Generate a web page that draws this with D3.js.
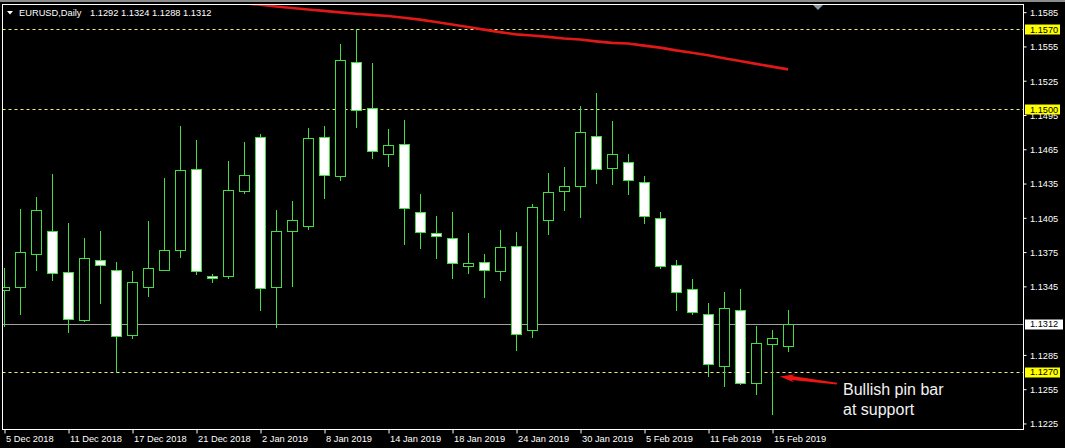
<!DOCTYPE html>
<html><head><meta charset="utf-8">
<script src="https://cdn.jsdelivr.net/npm/d3@7"></script>
<style>html,body{margin:0;padding:0;background:#000;overflow:hidden}</style>
</head><body>
<svg id="c" width="1065" height="448"></svg>
<script>
// ---------------- data ----------------
const symbolTitle = "EURUSD,Daily";
const headerOHLC = [1.1292, 1.1324, 1.1288, 1.1312];
const opens  = [1.1341,1.1344,1.1373,1.1393,1.1357,1.1315,1.1368,1.1359,1.1302,1.1344,
                1.1359,1.1376,1.1447,1.1354,1.1354,1.1428,1.1475,1.1344,1.1393,1.1397,
                1.1475,1.1441,1.1541,1.1501,1.1460,1.1469,1.1410,1.1391,1.1387,1.1362,
                1.1366,1.1358,1.1380,1.1306,1.1403,1.1428,1.1432,1.1476,1.1448,1.1453,
                1.1436,1.1404,1.1363,1.1342,1.1320,1.1275,1.1324,1.1260,1.1294,1.1292];
const highs  = [1.1361,1.1412,1.1423,1.1443,1.1400,1.1387,1.1393,1.1366,1.1358,1.1402,
                1.1439,1.1485,1.1473,1.1355,1.1454,1.1471,1.1478,1.1411,1.1419,1.1483,
                1.1485,1.1557,1.1570,1.1540,1.1482,1.1490,1.1425,1.1406,1.1410,1.1391,
                1.1373,1.1394,1.1392,1.1417,1.1444,1.1449,1.1502,1.1514,1.1489,1.1460,
                1.1441,1.1410,1.1368,1.1351,1.1330,1.1340,1.1342,1.1310,1.1306,1.1324];
const lows   = [1.1310,1.1320,1.1359,1.1350,1.1305,1.1314,1.1330,1.1270,1.1299,1.1336,
                1.1359,1.1370,1.1355,1.1348,1.1352,1.1426,1.1324,1.1309,1.1345,1.1395,
                1.1422,1.1438,1.1484,1.1457,1.1450,1.1382,1.1378,1.1369,1.1352,1.1356,
                1.1335,1.1350,1.1289,1.1300,1.1390,1.1411,1.1405,1.1435,1.1434,1.1425,
                1.1400,1.1361,1.1324,1.1320,1.1266,1.1257,1.1259,1.1250,1.1233,1.1288];
const closes = [1.1344,1.1375,1.1411,1.1356,1.1316,1.1369,1.1363,1.1301,1.1348,1.1361,
                1.1376,1.1446,1.1358,1.1352,1.1429,1.1442,1.1343,1.1393,1.1403,1.1474,
                1.1442,1.1543,1.1499,1.1463,1.1468,1.1413,1.1392,1.1389,1.1365,1.1365,
                1.1359,1.1379,1.1303,1.1414,1.1427,1.1432,1.1480,1.1447,1.1460,1.1438,
                1.1406,1.1362,1.1340,1.1322,1.1277,1.1326,1.1260,1.1295,1.1299,1.1312];
// moving average (starts at bar 15)
const maStart = 15;
const maValues = [1.15923,1.15910,1.15895,1.15882,1.15869,1.15857,1.15844,1.15832,1.15822,1.15812,
                  1.15797,1.15780,1.15759,1.15737,1.15716,1.15693,1.15671,1.15651,1.15641,1.15629,
                  1.15615,1.15606,1.15590,1.15577,1.15571,1.15553,1.15535,1.15511,1.15491,1.15468,
                  1.15443,1.15418,1.15393,1.15369,1.15345];
const dateTickIndex  = [0,4,8,12,16,20,24,28,32,36,40,44,48];
const dateTickLabels = ["5 Dec 2018","11 Dec 2018","17 Dec 2018","21 Dec 2018","2 Jan 2019","8 Jan 2019",
                        "14 Jan 2019","18 Jan 2019","24 Jan 2019","30 Jan 2019","5 Feb 2019","11 Feb 2019","15 Feb 2019"];
const priceTicks = [1.1585,1.1555,1.1525,1.1495,1.1465,1.1435,1.1405,1.1375,1.1345,1.1285,1.1255,1.1225];
const levelLines = [1.1570, 1.1500, 1.1270];
const bidPrice = 1.1312;
const noteLines = ["Bullish pin bar", "at support"];
const arrowTip  = [48.5, 1.12657];   // [bar index, price]
const arrowTail = [52.06, 1.12595];
const notePos   = [52.44, 1.12495];

// ---------------- layout ----------------
const W = 1065, H = 448;
const L = 2.5, R = 1023.5, T = 4.5, B = 429.5;
const GREEN = "#44dd44", FONT = "'Liberation Sans', Arial, sans-serif";

const svg = d3.select("#c");
svg.append("rect").attr("width", W).attr("height", H).attr("fill", "#000");
svg.append("rect").attr("width", W).attr("height", 2).attr("fill", "#8c8c8c");

const x = d3.scaleLinear().domain([0, 49]).range([4, 788]);
const y = d3.scaleLinear().domain([1.1270, 1.1570]).range([371.55, 28.8]);

svg.append("clipPath").attr("id", "plot").append("rect")
  .attr("x", L + 0.5).attr("y", T + 0.5).attr("width", R - L - 1).attr("height", B - T - 1);
const g = svg.append("g").attr("clip-path", "url(#plot)");

const snap = v => Math.round(v) + 0.5;

// level lines
g.selectAll("line.lvl").data(levelLines).join("line")
  .attr("x1", L).attr("x2", R)
  .attr("y1", d => snap(y(d))).attr("y2", d => snap(y(d)))
  .attr("stroke", "#f2f27a").attr("stroke-width", 1).attr("stroke-dasharray", "3,3");
// bid line
g.append("line").attr("x1", L).attr("x2", R)
  .attr("y1", snap(y(bidPrice))).attr("y2", snap(y(bidPrice)))
  .attr("stroke", "#a0a0a0").attr("stroke-width", 1);

// candles
const bars = d3.range(opens.length).map(i => ({i, o: opens[i], h: highs[i], l: lows[i], c: closes[i]}));
const cg = g.selectAll("g.cd").data(bars).join("g");
cg.append("line")
  .attr("x1", d => Math.round(x(d.i)) + 0.5).attr("x2", d => Math.round(x(d.i)) + 0.5)
  .attr("y1", d => Math.round(y(d.h))).attr("y2", d => Math.round(y(d.l)) + 1)
  .attr("stroke", GREEN).attr("stroke-width", 1);
cg.append("rect")
  .attr("x", d => Math.round(x(d.i)) - 4.5).attr("width", 10)
  .attr("y", d => snap(y(Math.max(d.o, d.c))))
  .attr("height", d => Math.max(0, snap(y(Math.min(d.o, d.c))) - snap(y(Math.max(d.o, d.c)))))
  .attr("fill", d => d.c >= d.o ? "#000" : "#fff")
  .attr("stroke", GREEN).attr("stroke-width", 1);

// moving average
g.append("path")
  .datum(maValues.map((v, j) => [maStart + j, v]))
  .attr("d", d3.line().x(d => x(d[0])).y(d => y(d[1])))
  .attr("fill", "none").attr("stroke", "#e01818").attr("stroke-width", 2.6);

// annotation arrow
{
  const tx = x(arrowTip[0]), ty = y(arrowTip[1]);
  const sx = x(arrowTail[0]), sy = y(arrowTail[1]);
  const ang = Math.atan2(sy - ty, sx - tx);
  const ux = Math.cos(ang), uy = Math.sin(ang), px = -uy, py = ux;
  const headLen = 15, headW = 4.2, shaftW0 = 2.0, shaftW1 = 0.9;
  const bx = tx + ux * headLen, by = ty + uy * headLen;
  const jx = tx + ux * (headLen - 3), jy = ty + uy * (headLen - 3);
  const pts = [
    [tx, ty],
    [bx + px * headW, by + py * headW],
    [jx + px * shaftW0, jy + py * shaftW0],
    [sx + px * shaftW1, sy + py * shaftW1],
    [sx - px * shaftW1, sy - py * shaftW1],
    [jx - px * shaftW0, jy - py * shaftW0],
    [bx - px * headW, by - py * headW]
  ];
  svg.append("path").attr("d", d3.line()(pts) + "Z").attr("fill", "#f01414");
}
svg.append("text").attr("x", x(notePos[0])).attr("y", y(notePos[1]))
  .attr("font-family", FONT).attr("font-size", 16).attr("fill", "#f2f2f2")
  .selectAll("tspan").data(noteLines).join("tspan")
  .attr("x", x(notePos[0])).attr("dy", (d, i) => i ? 20 : 0).text(d => d);

// frame
svg.append("rect").attr("x", L).attr("y", T).attr("width", R - L).attr("height", B - T)
  .attr("fill", "none").attr("stroke", "#fff").attr("stroke-width", 1);

// shift marker
svg.append("path").attr("d", "M813,5 L823,5 L818,10 Z").attr("fill", "#8a96a3");

// right axis
const ya = svg.append("g").attr("transform", `translate(${R},0)`)
  .call(d3.axisRight(y).tickValues(priceTicks).tickSize(3).tickPadding(4).tickFormat(d3.format(".4f")));
ya.select(".domain").remove();
ya.selectAll(".tick line").attr("stroke", "#fff").attr("transform", "translate(0,0.5)");
ya.selectAll(".tick text").attr("fill", "#fff").attr("font-family", FONT).attr("font-size", 9.2)
  .attr("x", 6.5).attr("dy", "0.42em");

// level price labels
const labels = levelLines.map(p => ({p, bg: "#ffff00", w: 35})).concat([{p: bidPrice, bg: "#ffffff", w: 38}]);
const lg = svg.selectAll("g.lab").data(labels).join("g");
lg.append("rect").attr("x", R + 1.5).attr("y", d => Math.round(y(d.p)) - 4.5)
  .attr("width", d => d.w).attr("height", 10).attr("fill", d => d.bg);
lg.append("text").attr("x", R + 6.5).attr("y", d => y(d.p)).attr("dy", "0.42em")
  .attr("font-family", FONT).attr("font-size", 9.2).attr("fill", "#000")
  .text(d => d3.format(".4f")(d.p));

// bottom axis
const xa = svg.append("g").attr("transform", `translate(0.5,${B})`)
  .call(d3.axisBottom(x).tickValues(dateTickIndex).tickSize(4).tickFormat((d, i) => dateTickLabels[i]));
xa.select(".domain").remove();
xa.selectAll(".tick line").attr("stroke", "#fff");
xa.selectAll(".tick text").attr("fill", "#fff").attr("font-family", FONT).attr("font-size", 9.3)
  .attr("text-anchor", "start").attr("x", 1).attr("y", 12.5).attr("dy", 0);

// header
svg.append("path").attr("d", "M7,11 L13,11 L10,14.5 Z").attr("fill", "#fff");
svg.append("text").attr("x", 19).attr("y", 16).attr("font-family", FONT).attr("font-size", 9.3)
  .attr("fill", "#fff").text(symbolTitle);
svg.append("text").attr("x", 90).attr("y", 16).attr("font-family", FONT).attr("font-size", 9.3)
  .attr("fill", "#fff").text(headerOHLC.map(d3.format(".4f")).join(" "));
</script>
</body></html>
